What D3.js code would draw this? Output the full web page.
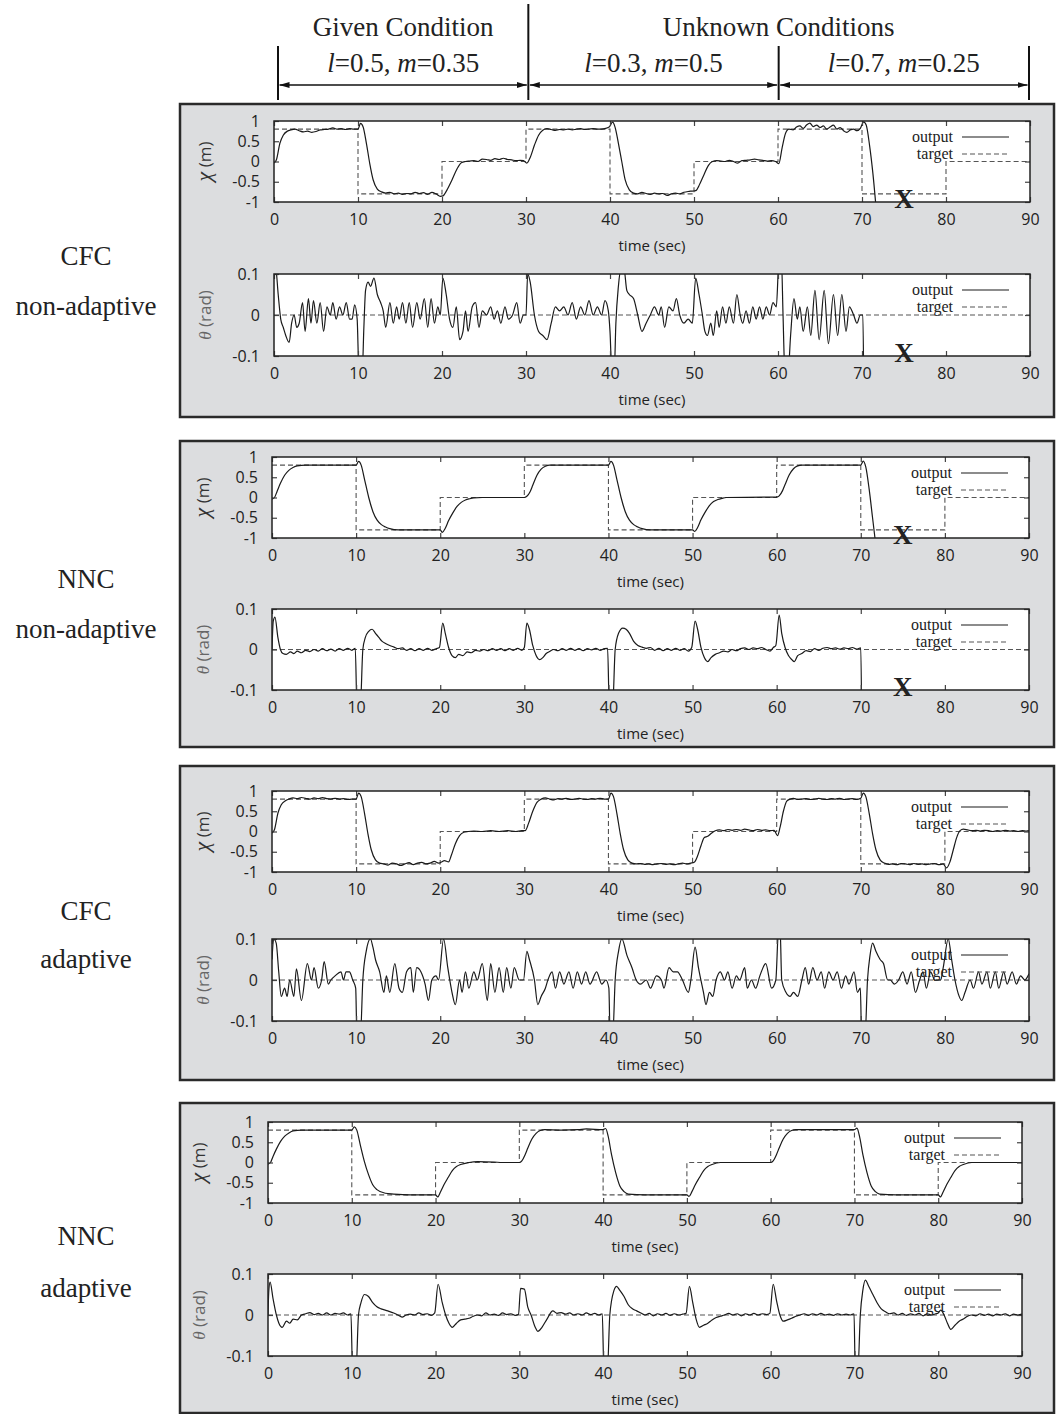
<!DOCTYPE html>
<html>
<head>
<meta charset="utf-8">
<script src="https://cdn.jsdelivr.net/npm/d3@7"></script>
<style>
body { margin: 0; background: #fff; }
svg { display: block; }
.tick text { font-family: "Open Sans", sans-serif; font-size: 16px; fill: #222; }
.tick line { stroke: #444; stroke-width: 1.2; }
.serif { font-family: "Liberation Serif", "Times New Roman", serif; }
.sans { font-family: "Open Sans", sans-serif; }
</style>
</head>
<body>
<div id="chart"></div>
<script>

// ---- data ----
var tickTimes = [0, 10, 20, 30, 40, 50, 60, 70, 80, 90];
var stepTimes = [0, 10, 20, 30, 40, 50, 60, 70, 80, 90];
var targetLevels = [0.8, -0.8, 0, 0.8, -0.8, 0, 0.8, -0.8, 0, 0];
var xTickValues = [-1, -0.5, 0, 0.5, 1];
var thetaTickValues = [-0.1, 0, 0.1];

var conditionBounds = [0, 30, 60, 90];
var conditionTitles = ["Given Condition", "Unknown Conditions"];
var conditionParams = [["0.5", "0.35"], ["0.3", "0.5"], ["0.7", "0.25"]];

var panelLabels = [["CFC", "non-adaptive"], ["NNC", "non-adaptive"], ["CFC", "adaptive"], ["NNC", "adaptive"]];
var failTime = 75;

// CFC non-adaptive, cart position [t, x]
var cfcNonAdaptiveX = [[0,-0.04],[0.3,0.05],[0.7,0.45],[1.1,0.65],[1.6,0.75],[2,0.78],[2.5,0.8],[3,0.76],[3.5,0.73],[4,0.75],[4.5,0.72],[5,0.74],[5.5,0.78],[6,0.79],[6.5,0.8],[7,0.83],[7.5,0.8],[8,0.81],[8.5,0.79],[9,0.81],[9.5,0.8],[10,0.8],[10.3,0.94],[10.6,0.86],[11,0.45],[11.4,-0.05],[11.8,-0.45],[12.3,-0.68],[12.8,-0.75],[13.3,-0.78],[13.8,-0.76],[14.3,-0.8],[14.8,-0.78],[15.3,-0.81],[15.8,-0.79],[16.3,-0.8],[16.8,-0.76],[17.3,-0.79],[17.8,-0.77],[18.3,-0.81],[18.8,-0.76],[19.3,-0.8],[19.8,-0.86],[20.1,-0.85],[20.6,-0.7],[21.2,-0.45],[21.8,-0.18],[22.3,-0.03],[22.8,0],[23.3,0.01],[23.8,0.02],[24.3,0],[24.8,0.06],[25.3,0.05],[25.8,0.03],[26.3,0.07],[26.8,0.05],[27.3,0.08],[27.8,0.05],[28.3,0.04],[28.8,0.02],[29.3,0.03],[29.7,0.02],[30.1,-0.04],[30.5,0.1],[31,0.4],[31.5,0.65],[32,0.77],[32.5,0.81],[33,0.79],[33.5,0.77],[34,0.79],[34.5,0.78],[35,0.8],[35.5,0.78],[36,0.8],[36.5,0.81],[37,0.79],[37.5,0.8],[38,0.81],[38.5,0.8],[39,0.8],[39.5,0.82],[39.9,0.85],[40.3,0.97],[40.6,0.85],[41,0.45],[41.4,0],[41.8,-0.45],[42.3,-0.7],[42.8,-0.78],[43.3,-0.8],[43.8,-0.76],[44.3,-0.79],[44.8,-0.81],[45.3,-0.78],[45.8,-0.8],[46.3,-0.79],[46.8,-0.84],[47.3,-0.8],[47.8,-0.78],[48.3,-0.8],[48.8,-0.76],[49.3,-0.74],[49.8,-0.73],[50.2,-0.72],[50.7,-0.55],[51.2,-0.32],[51.7,-0.1],[52.2,0],[52.7,0.02],[53.2,0.01],[53.7,0],[54.2,0.03],[54.7,0],[55.2,-0.04],[55.7,0.02],[56.2,0.03],[56.7,0.04],[57.2,0.06],[57.7,0.04],[58.2,0.03],[58.7,0.01],[59.2,0.02],[59.7,0],[60.1,-0.05],[60.5,0.35],[60.9,0.7],[61.3,0.8],[61.8,0.78],[62.2,0.85],[62.6,0.88],[63,0.82],[63.4,0.9],[63.8,0.95],[64.2,0.86],[64.6,0.9],[65,0.84],[65.4,0.88],[65.8,0.8],[66.2,0.85],[66.6,0.9],[67,0.8],[67.4,0.84],[67.8,0.76],[68.2,0.72],[68.6,0.78],[69,0.8],[69.4,0.76],[69.8,0.82],[70.2,0.98],[70.5,0.9],[70.9,0.4],[71.3,-0.3],[71.7,-1.2]];

// CFC non-adaptive, pole angle [t, theta]
var cfcNonAdaptiveTheta = [[0,0.13],[0.2,0.12],[0.5,0.05],[0.8,-0.01],[1.1,-0.03],[1.4,-0.05],[1.8,-0.067],[2.1,-0.02],[2.4,0],[2.7,-0.03],[3,-0.02],[3.4,0.03],[3.7,-0.04],[4.1,0.04],[4.4,-0.02],[4.7,0.035],[5.1,-0.02],[5.5,0.03],[5.9,-0.04],[6.3,0.02],[6.7,0],[7,0.03],[7.4,-0.01],[7.8,0.02],[8.2,0],[8.6,0.03],[9,-0.01],[9.3,-0.01],[9.6,0.025],[9.9,-0.01],[10.1,-0.13],[10.5,-0.14],[10.7,-0.03],[10.9,0.06],[11.2,0.08],[11.5,0.07],[11.9,0.09],[12.3,0.05],[12.7,0.03],[13,0.01],[13.3,-0.03],[13.8,0.03],[14.2,-0.02],[14.6,0.02],[14.9,-0.01],[15.3,0.03],[15.7,-0.02],[16.1,0.03],[16.5,-0.03],[17,0.03],[17.4,-0.01],[17.9,0.04],[18.3,-0.03],[18.7,0.04],[19.1,-0.02],[19.5,0.02],[19.8,0],[20.1,0.09],[20.5,0.05],[20.9,-0.01],[21.3,-0.03],[21.7,0.02],[22.1,-0.06],[22.5,-0.04],[22.8,0.01],[23.1,-0.04],[23.6,0.02],[24,0.03],[24.4,-0.03],[24.8,0.01],[25.3,0],[25.8,0.02],[26.2,-0.01],[26.6,0.01],[27,-0.02],[27.5,0.02],[27.9,-0.01],[28.4,0],[28.9,0.03],[29.3,-0.02],[29.7,0],[30,0],[30.2,0.1],[30.5,0.08],[31,0],[31.5,-0.04],[32,-0.05],[32.5,-0.06],[33,-0.02],[33.5,0.02],[34,0.01],[34.5,0.02],[35,0],[35.5,0.03],[36,-0.01],[36.5,0.02],[37,0],[37.5,0.035],[38,0],[38.5,0.02],[39,0],[39.4,0.035],[39.8,0.01],[40,-0.04],[40.2,-0.13],[40.5,-0.14],[40.7,-0.02],[41,0.07],[41.4,0.12],[41.7,0.11],[42,0.06],[42.3,0.05],[42.8,0.04],[43.3,0],[43.8,-0.04],[44.3,-0.02],[44.8,0],[45.3,0.02],[45.8,0],[46.1,0.02],[46.5,-0.03],[47,0.02],[47.5,0.01],[47.9,0.04],[48.3,0],[48.8,-0.02],[49.3,-0.01],[49.8,-0.02],[50.2,0.09],[50.6,0.05],[51,0],[51.3,-0.04],[51.6,-0.05],[52,-0.02],[52.3,-0.05],[52.7,0.01],[53,-0.03],[53.4,0.02],[53.8,-0.02],[54.2,0.02],[54.7,-0.02],[55.1,0.05],[55.5,0],[55.8,-0.02],[56.2,0.01],[56.6,-0.02],[57,0.02],[57.4,-0.01],[57.8,0.02],[58.2,-0.01],[58.6,0.02],[59,0],[59.4,0.03],[59.8,0.02],[60.1,0.13],[60.4,0.14],[60.6,0],[60.8,-0.13],[61.2,-0.14],[61.5,-0.05],[61.9,0.04],[62.3,-0.01],[62.6,0.02],[63,-0.04],[63.5,0.02],[63.9,-0.05],[64.4,0.06],[64.9,-0.06],[65.5,0.06],[66,-0.07],[66.6,0.05],[67.1,-0.05],[67.6,0.05],[68.1,-0.04],[68.5,0.02],[69,0],[69.4,-0.02],[69.8,0],[70.1,0],[70.2,-0.15]];

// NNC non-adaptive
var nncNonAdaptiveX = [[0,-0.04],[0.3,0],[0.6,0.15],[1,0.35],[1.5,0.55],[2,0.67],[2.5,0.74],[3,0.78],[4,0.8],[10,0.8],[10.3,0.89],[10.6,0.8],[11,0.45],[11.5,0],[12,-0.35],[12.5,-0.56],[13,-0.67],[13.5,-0.73],[14,-0.77],[15,-0.8],[20,-0.8],[20.25,-0.86],[20.6,-0.76],[21,-0.57],[21.5,-0.38],[22,-0.22],[22.5,-0.12],[23,-0.06],[23.5,-0.03],[24,-0.01],[25,0],[30,0],[30.3,0.03],[30.7,0.15],[31,0.3],[31.5,0.55],[32,0.7],[32.5,0.77],[33,0.8],[40,0.8],[40.3,0.89],[40.6,0.8],[41,0.45],[41.5,0],[42,-0.35],[42.5,-0.56],[43,-0.67],[43.5,-0.73],[44,-0.77],[45,-0.8],[50,-0.8],[50.25,-0.84],[50.6,-0.74],[51,-0.55],[51.5,-0.36],[52,-0.2],[52.5,-0.1],[53,-0.05],[53.5,-0.02],[54,0],[60,0.01],[60.3,0.04],[60.7,0.17],[61,0.32],[61.5,0.56],[62,0.71],[62.5,0.78],[63,0.8],[70,0.8],[70.3,0.9],[70.6,0.75],[71,0.2],[71.4,-0.5],[71.8,-1.2]];

var nncNonAdaptiveTheta = [[0,0],[0.15,0.07],[0.35,0.08],[0.7,0.03],[1,0],[1.3,-0.01],[1.7,-0.012],[2.2,-0.006],[2.6,-0.01],[3,-0.004],[3.5,-0.008],[4,-0.002],[4.5,-0.005],[5,0],[5.5,-0.004],[6,0.002],[6.5,-0.003],[7,0.001],[7.5,-0.004],[8,0.002],[8.5,-0.002],[9,0.003],[9.5,-0.002],[9.9,0.003],[10.1,-0.14],[10.5,-0.14],[10.8,0],[11.1,0.03],[11.5,0.045],[11.9,0.05],[12.3,0.04],[12.7,0.03],[13.1,0.02],[13.5,0.015],[14,0.01],[14.5,0.006],[15,0.002],[15.5,0.004],[16,-0.002],[16.5,0.002],[17,-0.003],[17.5,0.002],[18,-0.002],[18.5,0.003],[19,-0.002],[19.5,0.002],[19.9,0.005],[20.3,0.065],[20.6,0.04],[21,0.005],[21.4,-0.015],[21.8,-0.02],[22.2,-0.012],[22.7,-0.015],[23.2,-0.006],[23.7,-0.008],[24.2,-0.002],[24.7,-0.004],[25.2,0],[25.7,-0.003],[26.2,0.002],[26.7,-0.002],[27.2,0.002],[27.7,-0.003],[28.2,0.002],[28.7,-0.002],[29.2,0.003],[29.7,-0.002],[30,0.005],[30.3,0.065],[30.6,0.05],[31,0.01],[31.4,-0.015],[31.8,-0.025],[32.2,-0.02],[32.6,-0.01],[33,-0.005],[33.5,0],[34,-0.003],[34.5,0.002],[35,-0.002],[35.5,0.003],[36,-0.002],[36.5,0.002],[37,-0.003],[37.5,0.002],[38,-0.001],[38.5,0.003],[39,-0.002],[39.5,0.002],[39.9,0.003],[40.1,-0.14],[40.5,-0.14],[40.8,0],[41.2,0.04],[41.7,0.053],[42.1,0.05],[42.5,0.04],[43,0.02],[43.5,0.01],[44,0.006],[44.5,0.003],[45,0.005],[45.5,-0.002],[46,0.003],[46.5,-0.003],[47,0.002],[47.5,-0.002],[48,0.003],[48.5,-0.002],[49,0.002],[49.5,-0.004],[49.9,0.005],[50.3,0.07],[50.6,0.05],[51,0.005],[51.4,-0.02],[51.8,-0.03],[52.2,-0.02],[52.7,-0.012],[53.2,-0.008],[53.7,-0.004],[54.2,-0.006],[54.7,0],[55.2,-0.003],[55.7,0.002],[56.2,0.004],[56.7,0],[57.2,0.004],[57.7,0.002],[58.2,0.005],[58.7,0],[59.2,-0.004],[59.6,0.005],[59.9,0.01],[60.3,0.085],[60.6,0.04],[61,0.005],[61.4,-0.015],[61.8,-0.025],[62.1,-0.03],[62.5,-0.015],[63,-0.01],[63.5,-0.003],[64,-0.005],[64.5,0.002],[65,-0.002],[65.5,0.003],[66,0.005],[66.5,0.002],[67,0.004],[67.5,0.001],[68,0.004],[68.5,0.002],[69,0.005],[69.5,0.001],[70,0.004],[70.1,-0.15]];

// CFC adaptive
var cfcAdaptiveX = [[0,-0.04],[0.3,0.05],[0.7,0.45],[1.1,0.66],[1.6,0.76],[2,0.8],[2.5,0.83],[3,0.81],[3.5,0.84],[4,0.82],[4.5,0.8],[5,0.83],[5.5,0.81],[6,0.84],[6.5,0.81],[7,0.8],[7.5,0.82],[8,0.8],[8.5,0.81],[9,0.79],[9.5,0.8],[10,0.8],[10.3,0.95],[10.6,0.86],[11,0.45],[11.4,-0.05],[11.8,-0.45],[12.3,-0.7],[12.8,-0.78],[13.3,-0.8],[13.8,-0.83],[14.3,-0.78],[14.8,-0.8],[15.3,-0.84],[15.8,-0.8],[16.3,-0.77],[16.8,-0.82],[17.3,-0.78],[17.8,-0.76],[18.3,-0.8],[18.8,-0.78],[19.3,-0.74],[19.8,-0.78],[20.1,-0.76],[20.5,-0.72],[21,-0.75],[21.3,-0.6],[21.8,-0.3],[22.3,-0.1],[22.8,-0.02],[23.3,0],[24,0.01],[25,0],[26,0.02],[27,0],[28,0.02],[29,0],[29.7,0.02],[30.1,0.02],[30.5,0.2],[31,0.5],[31.5,0.72],[32,0.8],[32.5,0.83],[33,0.8],[33.5,0.78],[34,0.81],[34.5,0.8],[35,0.82],[35.5,0.79],[36,0.8],[36.5,0.82],[37,0.8],[37.5,0.79],[38,0.81],[38.5,0.8],[39,0.82],[39.5,0.8],[40,0.8],[40.3,0.95],[40.6,0.86],[41,0.45],[41.4,-0.05],[41.8,-0.45],[42.3,-0.7],[42.8,-0.78],[43.3,-0.8],[43.8,-0.79],[44.3,-0.81],[44.8,-0.8],[45.3,-0.82],[45.8,-0.8],[46.3,-0.79],[46.8,-0.81],[47.3,-0.8],[47.8,-0.82],[48.3,-0.8],[48.8,-0.78],[49.3,-0.8],[49.8,-0.78],[50.2,-0.76],[50.6,-0.6],[51,-0.35],[51.4,-0.15],[51.8,-0.12],[52.2,-0.05],[52.7,0.02],[53.2,0.04],[53.7,0.02],[54.2,0.05],[54.7,0.03],[55.2,0.05],[55.7,0.03],[56.2,0.06],[56.7,0.04],[57.2,0.02],[57.7,0.05],[58.2,0.03],[58.7,0.04],[59.2,0.02],[59.7,0.03],[60.1,-0.1],[60.4,0.1],[60.8,0.5],[61.2,0.75],[61.6,0.8],[62,0.82],[62.5,0.79],[63,0.8],[63.5,0.81],[64,0.79],[64.5,0.8],[65,0.82],[65.5,0.8],[66,0.79],[66.5,0.81],[67,0.8],[67.5,0.82],[68,0.79],[68.5,0.8],[69,0.81],[69.5,0.79],[70,0.82],[70.3,0.95],[70.6,0.86],[71,0.45],[71.4,-0.05],[71.8,-0.45],[72.3,-0.7],[72.8,-0.78],[73.3,-0.81],[73.8,-0.8],[74.3,-0.82],[74.8,-0.79],[75.3,-0.8],[75.8,-0.82],[76.3,-0.79],[76.8,-0.81],[77.3,-0.8],[77.8,-0.82],[78.3,-0.8],[78.8,-0.79],[79.3,-0.82],[79.8,-0.8],[80.2,-0.9],[80.6,-0.75],[81,-0.45],[81.4,-0.15],[81.8,0.02],[82.2,0.06],[82.7,0.04],[83.2,0.02],[83.7,0.03],[84.2,0.01],[84.7,0.03],[85.2,0.02],[85.7,0],[86.2,0.02],[86.7,0.01],[87.2,0.03],[87.7,0.01],[88.2,0.02],[88.7,0],[89.2,0.02],[89.7,0.01],[90,0.02]];

var cfcAdaptiveTheta = [[0,0.05],[0.2,0.1],[0.5,0.09],[0.8,0.02],[1.1,-0.04],[1.5,-0.02],[1.8,-0.04],[2.1,0],[2.6,-0.04],[2.9,0.027],[3.5,-0.05],[4.2,0.04],[4.7,0],[5,0.03],[5.5,-0.02],[5.9,0],[6.2,0.045],[6.7,-0.01],[7,0],[7.5,0.01],[8.2,0.02],[8.5,0],[8.8,0.02],[9.2,0.02],[9.6,0],[9.95,-0.02],[10.1,-0.14],[10.5,-0.14],[10.8,0],[11.2,0.07],[11.7,0.1],[12,0.08],[12.3,0.05],[12.8,0.02],[13.3,-0.03],[13.6,0.01],[14,-0.03],[14.6,0.04],[15.1,-0.02],[15.5,-0.03],[16,0.02],[16.5,0.03],[16.8,-0.03],[17.2,0.03],[17.7,0.02],[18.2,-0.01],[18.6,-0.05],[19,0],[19.5,0.01],[19.8,0],[20.4,0.1],[20.9,0.03],[21.4,-0.03],[21.8,-0.06],[22.3,0],[22.6,-0.03],[23,0.02],[23.4,-0.02],[24,0.02],[24.4,0],[25,0.04],[25.6,-0.05],[26,0.04],[26.5,-0.03],[27,0.03],[27.5,-0.03],[27.9,0.03],[28.4,-0.02],[28.8,0.03],[29.4,0],[29.9,0],[30.3,0.07],[30.6,0.05],[31.2,0],[31.6,-0.06],[32,-0.04],[32.5,-0.02],[32.8,0],[33.3,0.02],[33.7,-0.02],[34.2,0.02],[34.7,-0.01],[35.3,0.02],[35.8,-0.02],[36.3,0.02],[36.8,-0.01],[37.3,0.02],[37.8,-0.01],[38.6,0.02],[39.2,-0.01],[39.7,0],[40.05,-0.02],[40.2,-0.14],[40.5,-0.14],[40.8,0],[41.2,0.07],[41.6,0.1],[42.2,0.06],[42.8,0.03],[43.3,0],[43.8,-0.01],[44.5,0],[45,-0.02],[45.7,0.01],[46.3,0],[46.6,-0.02],[47.2,0.03],[47.7,0.02],[48.2,0.02],[48.8,0],[49.5,-0.03],[49.8,0],[50.3,0.08],[50.7,0.03],[51.3,-0.03],[51.6,-0.06],[52,-0.03],[52.4,-0.04],[52.8,0],[53.3,0.02],[53.8,0],[54.2,0.02],[54.7,-0.02],[55.2,0.01],[55.6,0],[56.2,0.03],[56.5,-0.02],[57,0],[57.5,-0.02],[58,0.01],[58.7,0.04],[59.4,-0.02],[59.9,0],[60.2,0.12],[60.4,0.13],[60.6,0],[61.1,-0.03],[61.6,-0.04],[62,-0.03],[62.5,-0.04],[63,0],[63.4,0.03],[63.8,-0.01],[64.3,0.03],[64.8,0],[65.3,0.02],[65.7,-0.02],[66.2,0.02],[66.7,0],[67.2,0.02],[67.7,-0.02],[68.2,0.01],[68.6,-0.01],[69.2,0.02],[69.6,-0.03],[69.95,-0.02],[70.1,-0.14],[70.5,-0.14],[70.8,0],[71.1,0.06],[71.4,0.09],[71.8,0.07],[72.3,0.05],[72.7,0.04],[73.2,0],[73.5,0],[74,-0.01],[74.5,0],[75,0.02],[75.5,-0.01],[76,0.02],[76.5,-0.03],[77,0],[77.4,0.02],[77.8,-0.02],[78.3,0.02],[78.8,0],[79.5,0],[79.8,0.03],[80.4,0.1],[80.8,0.05],[81.2,0],[81.7,-0.04],[82,-0.05],[82.4,-0.03],[83,0],[83.4,-0.02],[84,0.02],[84.4,-0.01],[85,0.02],[85.4,-0.02],[86,0.02],[86.4,-0.02],[87,0.02],[87.4,-0.01],[88,0.02],[88.5,-0.01],[89,0.01],[89.5,0],[90,0.015]];

// NNC adaptive
var nncAdaptiveX = [[0,-0.04],[0.3,0],[0.6,0.15],[1,0.33],[1.5,0.52],[2,0.65],[2.5,0.73],[3,0.78],[4,0.8],[10,0.8],[10.3,0.88],[10.6,0.8],[11,0.45],[11.5,0.03],[12,-0.3],[12.5,-0.55],[13,-0.67],[14,-0.76],[15,-0.78],[17,-0.8],[20,-0.8],[20.25,-0.85],[20.6,-0.72],[21,-0.55],[21.5,-0.37],[22,-0.2],[22.5,-0.1],[23,-0.05],[24,0],[25,0.02],[27,0.01],[28,0],[30,0],[30.3,0.04],[30.7,0.2],[31,0.35],[31.5,0.58],[32,0.72],[32.5,0.79],[33,0.81],[35,0.8],[37,0.81],[38,0.83],[40,0.81],[40.3,0.84],[40.6,0.65],[41,0.2],[41.5,-0.25],[42,-0.58],[42.5,-0.72],[43,-0.78],[45,-0.8],[50,-0.8],[50.25,-0.84],[50.6,-0.72],[51,-0.55],[51.5,-0.37],[52,-0.2],[52.5,-0.1],[53,-0.05],[54,0],[60,0],[60.3,0.04],[60.7,0.2],[61,0.35],[61.5,0.58],[62,0.72],[62.5,0.79],[63,0.81],[70,0.81],[70.3,0.85],[70.6,0.65],[71,0.2],[71.5,-0.25],[72,-0.58],[72.5,-0.72],[73,-0.78],[75,-0.8],[80,-0.8],[80.25,-0.85],[80.6,-0.72],[81,-0.55],[81.5,-0.37],[82,-0.2],[82.5,-0.1],[83,-0.05],[84,0],[90,0]];

var nncAdaptiveTheta = [[0,0],[0.1,0.06],[0.25,0.08],[0.6,0.04],[1,0],[1.3,-0.02],[1.7,-0.03],[2.2,-0.015],[2.6,-0.02],[3,-0.01],[3.5,-0.012],[4,0],[4.5,0.003],[5,0.006],[5.5,0.001],[6,0.004],[6.5,0],[7,0.005],[7.5,0],[8,0.004],[8.5,0.002],[9,0.005],[9.5,0],[9.9,0.003],[10.1,-0.14],[10.5,-0.14],[10.8,0],[11.1,0.03],[11.5,0.05],[12,0.045],[12.5,0.03],[13,0.02],[13.5,0.015],[14.3,0.01],[15,0.005],[15.5,0],[16,-0.005],[16.5,0],[17,0.002],[17.5,0],[18,0.005],[18.5,0.001],[19,0.003],[19.5,-0.001],[19.9,0.005],[20.3,0.075],[20.8,0.03],[21.2,0],[21.6,-0.02],[22,-0.03],[22.5,-0.02],[23,-0.012],[23.5,-0.01],[24,-0.008],[24.5,-0.003],[25,0],[25.5,-0.002],[26,0.005],[26.5,0],[27,0.002],[27.5,-0.001],[28,0.005],[28.5,0.001],[29,0.003],[29.5,-0.001],[29.9,0.002],[30.15,0.065],[30.6,0.063],[31,0.02],[31.4,0],[31.9,-0.03],[32.2,-0.04],[32.7,-0.03],[33.3,-0.01],[34,0.01],[34.5,0.004],[35,0.006],[35.5,0.002],[36,0.005],[36.5,0],[37,0.003],[37.5,0],[38,0.005],[38.5,0.001],[39,0.004],[39.5,0],[39.9,0.003],[40.1,-0.14],[40.5,-0.14],[40.8,0],[41.3,0.06],[41.6,0.07],[42,0.06],[42.5,0.045],[43,0.025],[43.5,0.015],[44,0.01],[44.5,0.005],[45,0],[45.5,0.004],[46,-0.002],[46.5,0.003],[47,0],[47.5,0.004],[48,-0.001],[48.5,0.003],[49,0],[49.5,0.002],[49.9,0.004],[50.3,0.07],[50.7,0.03],[51.1,-0.01],[51.5,-0.03],[52,-0.025],[52.5,-0.02],[53,-0.012],[53.5,-0.006],[54,-0.003],[54.5,0],[55,0.004],[55.5,0],[56,0.003],[56.5,-0.002],[57,0.003],[57.5,0],[58,0.004],[58.5,0],[59,0.003],[59.5,0.001],[59.9,0.004],[60.3,0.075],[60.7,0.035],[61.1,0],[61.5,-0.015],[62,-0.012],[62.5,-0.008],[63,-0.003],[63.5,0],[64,0.003],[64.5,-0.001],[65,0.003],[65.5,0],[66,0.004],[66.5,0],[67,0.002],[67.5,-0.001],[68,0.003],[68.5,0],[69,0.002],[69.5,0],[69.95,0.003],[70.1,-0.14],[70.4,-0.14],[70.7,0],[71,0.06],[71.3,0.085],[71.7,0.07],[72.2,0.05],[72.7,0.03],[73.2,0.015],[73.7,0.008],[74.2,0.003],[74.7,0.005],[75.2,0],[75.7,0.004],[76.2,-0.001],[76.7,0.003],[77.2,0],[77.7,0.004],[78.2,-0.002],[78.7,0.003],[79.2,0],[79.7,0.003],[80,0.005],[80.3,0.012],[80.7,0],[81.1,-0.02],[81.5,-0.035],[82,-0.025],[82.5,-0.015],[83,-0.01],[83.5,-0.003],[84,0],[84.5,-0.002],[85,0.003],[85.5,-0.001],[86,0.002],[86.5,-0.002],[87,0.002],[87.5,0],[88,0.003],[88.5,-0.002],[89,0.002],[89.5,0],[90,0.002]];

// ---- layout ----
var W = 1056, H = 1414;

var panels = [
  {box: [180, 104, 1054, 417], left: 274, right: 1030, xTop: 121, xBot: 202, tTop: 274, tBot: 356, labelY: [265, 315], xOut: cfcNonAdaptiveX, tOut: cfcNonAdaptiveTheta, failed: true},
  {box: [180, 441, 1054, 747], left: 272, right: 1029, xTop: 457, xBot: 538, tTop: 609, tBot: 690, labelY: [588, 638], xOut: nncNonAdaptiveX, tOut: nncNonAdaptiveTheta, failed: true},
  {box: [180, 766, 1054, 1080], left: 272, right: 1029, xTop: 791, xBot: 872, tTop: 939, tBot: 1021, labelY: [920, 968], xOut: cfcAdaptiveX, tOut: cfcAdaptiveTheta, failed: false},
  {box: [180, 1103, 1054, 1413], left: 268, right: 1022, xTop: 1122, xBot: 1203, tTop: 1274, tBot: 1356, labelY: [1245, 1297], xOut: nncAdaptiveX, tOut: nncAdaptiveTheta, failed: false}
];

var svg = d3.select("#chart").append("svg")
    .attr("width", W)
    .attr("height", H);

svg.append("rect").attr("width", W).attr("height", H).attr("fill", "#fff");

var defs = svg.append("defs");
["start", "end"].forEach(function(k) {
  defs.append("marker")
      .attr("id", "arrow-" + k)
      .attr("viewBox", "0 0 10 6")
      .attr("refX", k == "end" ? 10 : 0)
      .attr("refY", 3)
      .attr("markerWidth", 10)
      .attr("markerHeight", 6)
      .attr("markerUnits", "userSpaceOnUse")
      .attr("orient", "auto")
    .append("path")
      .attr("d", k == "end" ? "M0,0L10,3L0,6Z" : "M10,0L0,3L10,6Z")
      .attr("fill", "#111");
});

// header with conditions
var hx = d3.scaleLinear().domain([0, 90]).range([278, 1029]);
var header = svg.append("g");

header.selectAll(".bound")
    .data(conditionBounds)
  .enter().append("line")
    .attr("x1", function(d) { return hx(d); })
    .attr("x2", function(d) { return hx(d); })
    .attr("y1", function(d, i) { return i == 1 ? 4 : 46; })
    .attr("y2", 100)
    .attr("stroke", "#111")
    .attr("stroke-width", 2);

header.selectAll(".span")
    .data(d3.range(conditionBounds.length - 1))
  .enter().append("line")
    .attr("x1", function(i) { return hx(conditionBounds[i]) + 1.5; })
    .attr("x2", function(i) { return hx(conditionBounds[i + 1]) - 1.5; })
    .attr("y1", 85).attr("y2", 85)
    .attr("stroke", "#111")
    .attr("stroke-width", 1.6)
    .attr("marker-start", "url(#arrow-start)")
    .attr("marker-end", "url(#arrow-end)");

header.append("text").attr("class", "serif")
    .attr("x", hx(15)).attr("y", 36)
    .attr("text-anchor", "middle").style("font-size", "27px").attr("fill", "#222")
    .text(conditionTitles[0]);
header.append("text").attr("class", "serif")
    .attr("x", hx(60)).attr("y", 36)
    .attr("text-anchor", "middle").style("font-size", "27px").attr("fill", "#222")
    .text(conditionTitles[1]);

conditionParams.forEach(function(p, i) {
  var t = header.append("text").attr("class", "serif")
      .attr("x", hx((conditionBounds[i] + conditionBounds[i + 1]) / 2))
      .attr("y", 72)
      .attr("text-anchor", "middle").style("font-size", "27px").attr("fill", "#222");
  t.append("tspan").style("font-style", "italic").text("l");
  t.append("tspan").text("=" + p[0] + ", ");
  t.append("tspan").style("font-style", "italic").text("m");
  t.append("tspan").text("=" + p[1]);
});

var lineGen = d3.line()
    .curve(d3.curveMonotoneX);

function drawPlot(g, p, top, bot, domain, ticks, isTheta, out, idx) {
  var x = d3.scaleLinear().domain([0, 90]).range([p.left, p.right]);
  var y = d3.scaleLinear().domain(domain).range([bot, top]);
  var clipId = "clip-" + idx;

  g.append("rect")
      .attr("x", p.left).attr("y", top)
      .attr("width", p.right - p.left).attr("height", bot - top)
      .attr("fill", "#fff");

  g.append("clipPath").attr("id", clipId)
    .append("rect")
      .attr("x", p.left).attr("y", top)
      .attr("width", p.right - p.left).attr("height", bot - top);

  // target
  var target;
  if (isTheta) {
    target = [[0, 0], [90, 0]];
  } else {
    target = stepTimes.map(function(t, i) { return [t, targetLevels[i]]; });
  }
  g.append("path")
      .attr("clip-path", "url(#" + clipId + ")")
      .attr("d", d3.line().curve(isTheta ? d3.curveLinear : d3.curveStepAfter)
          .x(function(d) { return x(d[0]); })
          .y(function(d) { return y(d[1]); })(target))
      .attr("fill", "none")
      .attr("stroke", "#555")
      .attr("stroke-width", 1.1)
      .attr("stroke-dasharray", "5,3");

  // output
  g.append("path")
      .attr("clip-path", "url(#" + clipId + ")")
      .attr("d", lineGen
          .x(function(d) { return x(d[0]); })
          .y(function(d) { return y(d[1]); })(out))
      .attr("fill", "none")
      .attr("stroke", "#1a1a1a")
      .attr("stroke-width", 1.2)
      .attr("stroke-linejoin", "round");

  // axes, ticks drawn inward on all four sides
  var fmt = function(d) { return String(d); };
  var bottomAxis = g.append("g")
      .attr("transform", "translate(0," + bot + ")")
      .call(d3.axisBottom(x).tickValues(tickTimes).tickSize(-5).tickPadding(12).tickFormat(fmt));
  var leftAxis = g.append("g")
      .attr("transform", "translate(" + p.left + ",0)")
      .call(d3.axisLeft(y).tickValues(ticks).tickSize(-5).tickPadding(14).tickFormat(fmt));
  var topAxis = g.append("g")
      .attr("transform", "translate(0," + top + ")")
      .call(d3.axisTop(x).tickValues(tickTimes).tickSize(-5).tickFormat(""));
  var rightAxis = g.append("g")
      .attr("transform", "translate(" + p.right + ",0)")
      .call(d3.axisRight(y).tickValues(ticks).tickSize(-5).tickFormat(""));
  [bottomAxis, leftAxis, topAxis, rightAxis].forEach(function(a) {
    a.select(".domain").remove();
  });

  g.append("rect")
      .attr("x", p.left).attr("y", top)
      .attr("width", p.right - p.left).attr("height", bot - top)
      .attr("fill", "none")
      .attr("stroke", "#222")
      .attr("stroke-width", 1.5);

  // axis titles
  g.append("text").attr("class", "sans")
      .attr("x", (p.left + p.right) / 2)
      .attr("y", bot + 49)
      .attr("text-anchor", "middle")
      .style("font-size", "15px")
      .attr("fill", "#222")
      .text("time (sec)");

  var yl = g.append("text")
      .attr("transform", "translate(" + (p.left - 63) + "," + ((top + bot) / 2) + ") rotate(-90)")
      .attr("text-anchor", "middle")
      .attr("class", "sans")
      .style("font-size", "17px")
      .attr("fill", isTheta ? "#666" : "#333");
  yl.append("tspan").attr("class", "serif").style("font-style", "italic")
      .style("font-size", isTheta ? "17px" : "22px")
      .text(isTheta ? "\u03b8" : "\u03c7");
  yl.append("tspan").text(isTheta ? " (rad)" : " (m)");

  // legend
  var lg = g.append("g").attr("class", "serif").style("font-size", "16px");
  lg.append("text").attr("x", p.right - 77).attr("y", top + 21)
      .attr("text-anchor", "end").attr("fill", "#222").text("output");
  lg.append("line").attr("x1", p.right - 68).attr("x2", p.right - 21)
      .attr("y1", top + 16).attr("y2", top + 16)
      .attr("stroke", "#1a1a1a").attr("stroke-width", 1.2);
  lg.append("text").attr("x", p.right - 77).attr("y", top + 38)
      .attr("text-anchor", "end").attr("fill", "#222").text("target");
  lg.append("line").attr("x1", p.right - 68).attr("x2", p.right - 21)
      .attr("y1", top + 33).attr("y2", top + 33)
      .attr("stroke", "#555").attr("stroke-width", 1.1)
      .attr("stroke-dasharray", "5,3");

  if (p.failed) {
    g.append("text").attr("class", "serif")
        .attr("x", x(failTime)).attr("y", bot + 6)
        .attr("text-anchor", "middle")
        .style("font-size", "27px").style("font-weight", "bold")
        .attr("fill", "#222")
        .text("X");
  }
}

panels.forEach(function(p, i) {
  var g = svg.append("g");
  g.append("rect")
      .attr("x", p.box[0]).attr("y", p.box[1])
      .attr("width", p.box[2] - p.box[0]).attr("height", p.box[3] - p.box[1])
      .attr("fill", "#dcdddf")
      .attr("stroke", "#2a2a2a")
      .attr("stroke-width", 2.5);

  drawPlot(g, p, p.xTop, p.xBot, [-1, 1], xTickValues, false, p.xOut, i * 2);
  drawPlot(g, p, p.tTop, p.tBot, [-0.1, 0.1], thetaTickValues, true, p.tOut, i * 2 + 1);

  svg.append("text").attr("class", "serif")
      .attr("x", 86).attr("y", p.labelY[0])
      .attr("text-anchor", "middle").style("font-size", "27px").attr("fill", "#222")
      .text(panelLabels[i][0]);
  svg.append("text").attr("class", "serif")
      .attr("x", 86).attr("y", p.labelY[1])
      .attr("text-anchor", "middle").style("font-size", "27px").attr("fill", "#222")
      .text(panelLabels[i][1]);
});

</script>
</body>
</html>
